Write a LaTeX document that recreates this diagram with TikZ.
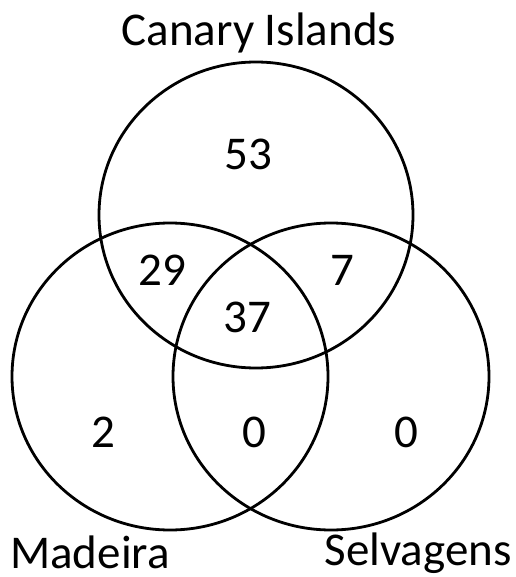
\documentclass[tikz,border=0pt]{standalone}
\usepackage{fontspec}
\setmainfont{Carlito}
\begin{document}
\begin{tikzpicture}[x=1bp,y=-1bp,
  ring/.style={draw=black,line width=2.8bp},
  lbl/.style={anchor=base,inner sep=0pt,font=\fontsize{47bp}{50bp}\selectfont}]
\useasboundingbox (0,0) rectangle (516,577);
\draw[ring] (256,215) ellipse [x radius=157, y radius=153];
\draw[ring] (170,376.5) ellipse [x radius=158, y radius=153.5];
\draw[ring] (331,376.5) ellipse [x radius=158, y radius=153.5];
\node[lbl] (canary) at (259,46) {Canary Islands};
\node[lbl] (madeira) at (90,568) {Madeira};
\node[lbl] (selv) at (418,565) {Selvagens};
\node[lbl] (n53) at (248,170) {53};
\node[lbl] (n29) at (162,285) {29};
\node[lbl] (n7) at (342,285) {7};
\node[lbl] (n37) at (247,332) {37};
\node[lbl] (n2) at (103,447) {2};
\node[lbl] (n0a) at (254,447) {0};
\node[lbl] (n0b) at (406,447) {0};
\end{tikzpicture}
\end{document}
